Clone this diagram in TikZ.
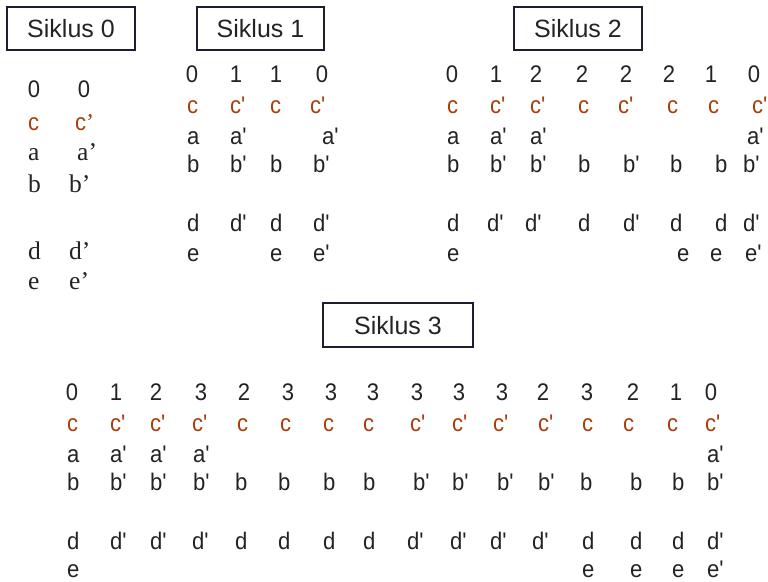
\documentclass[tikz,border=0pt]{standalone}
\usepackage{fontspec}
\setsansfont{Liberation Sans}
\newfontfamily\itf[FakeStretch=0.92]{Liberation Sans}
\newfontfamily\srf{Liberation Serif}
\newcommand\myq{\textquotesingle}
\definecolor{cbrown}{RGB}{170,62,10}
\definecolor{boxc}{RGB}{30,30,50}
\definecolor{txt}{RGB}{35,35,35}
\begin{document}
\begin{tikzpicture}[x=1pt,y=1pt,
  every node/.style={inner sep=0pt, text depth=0pt, font=\itf\fontsize{24}{28}\selectfont, text=txt},
  dg/.style={anchor=base},
  lt/.style={anchor=base west},
  cl/.style={anchor=base west, text=cbrown},
  sl/.style={anchor=base west, font=\srf\fontsize{25.5}{30}\selectfont},
  title/.style={draw=boxc, line width=1.5pt, minimum height=43pt, anchor=center,
    font=\sffamily\fontsize{25}{29}\selectfont}]
\useasboundingbox (0,0) rectangle (768,-581);

% ---------- titles
\node[title, minimum width=128pt] (t0) at (71,-28.5) {Siklus 0};
\node[title, minimum width=127pt] (t1) at (260.5,-28.5) {Siklus 1};
\node[title, minimum width=128pt] (t2) at (578,-28.5) {Siklus 2};
\node[title, minimum width=150pt, minimum height=44pt] (t3) at (398,-325) {Siklus 3};

% ---------- Siklus 0
\node[dg] (s0n1) at (34,-97) {0};
\node[dg] (s0n2) at (84,-97) {0};
\node[cl] (s0c1) at (28,-130) {c};
\node[cl] (s0c2) at (75,-130) {c{\srf ’}};
\node[sl] (s0a1) at (28,-160) {a};
\node[sl] (s0a2) at (77,-160) {a’};
\node[sl] (s0b1) at (28,-192) {b};
\node[sl] (s0b2) at (69,-192) {b’};
\node[sl] (s0d1) at (28,-259) {d};
\node[sl] (s0d2) at (69,-259) {d’};
\node[sl] (s0e1) at (28,-289) {e};
\node[sl] (s0e2) at (69,-289) {e’};

% ---------- Siklus 1
\foreach \x/\t [count=\i] in {192/0,236/1,276/1,322/0}
  \node[dg] (s1n\i) at (\x,-82) {\t};
\foreach \x/\t [count=\i] in {187/c,230/c\myq,270/c,310/c\myq}
  \node[cl] (s1c\i) at (\x,-113) {\t};
\foreach \x/\t [count=\i] in {187/a,230/a\myq,322/a\myq}
  \node[lt] (s1a\i) at (\x,-144) {\t};
\foreach \x/\t [count=\i] in {187/b,230/b\myq,270/b,313/b\myq}
  \node[lt] (s1b\i) at (\x,-172) {\t};
\foreach \x/\t [count=\i] in {187/d,230/d\myq,270/d,313/d\myq}
  \node[lt] (s1d\i) at (\x,-231) {\t};
\foreach \x/\t [count=\i] in {187/e,270/e,313/e\myq}
  \node[lt] (s1e\i) at (\x,-261) {\t};

% ---------- Siklus 2
\foreach \x/\t [count=\i] in {452/0,496/1,536/2,582/2,626/2,669/2,711/1,754/0}
  \node[dg] (s2n\i) at (\x,-82) {\t};
\foreach \x/\t [count=\i] in {447/c,490/c\myq,530/c\myq,578/c,618/c\myq,667/c,708/c,752/c\myq}
  \node[cl] (s2c\i) at (\x,-113) {\t};
\foreach \x/\t [count=\i] in {447/a,490/a\myq,530/a\myq,747/a\myq}
  \node[lt] (s2a\i) at (\x,-144) {\t};
\foreach \x/\t [count=\i] in {447/b,490/b\myq,530/b\myq,578/b,623/b\myq,670/b,715/b,743/b\myq}
  \node[lt] (s2b\i) at (\x,-172) {\t};
\foreach \x/\t [count=\i] in {447/d,487/d\myq,525/d\myq,578/d,623/d\myq,670/d,715/d,743/d\myq}
  \node[lt] (s2d\i) at (\x,-231) {\t};
\foreach \x/\t [count=\i] in {447/e,677/e,710/e,745/e\myq}
  \node[lt] (s2e\i) at (\x,-261) {\t};

% ---------- Siklus 3
\foreach \x/\t [count=\i] in {72/0,116/1,156/2,201/3,244/2,288/3,331/3,373/3,417/3,459/3,502/3,543/2,587/3,633/2,676/1,711/0}
  \node[dg] (s3n\i) at (\x,-400) {\t};
\foreach \x/\t [count=\i] in {67/c,110/c\myq,150/c\myq,192/c\myq,237/c,280/c,323/c,363/c,410/c\myq,452/c\myq,493/c\myq,538/c\myq,582/c,623/c,667/c,705/c\myq}
  \node[cl] (s3c\i) at (\x,-431) {\t};
\foreach \x/\t [count=\i] in {67/a,110/a\myq,150/a\myq,193/a\myq,707/a\myq}
  \node[lt] (s3a\i) at (\x,-462) {\t};
\foreach \x/\t [count=\i] in {67/b,110/b\myq,150/b\myq,193/b\myq,235/b,278/b,323/b,363/b,413/b\myq,452/b\myq,497/b\myq,538/b\myq,580/b,630/b,672/b,707/b\myq}
  \node[lt] (s3b\i) at (\x,-490) {\t};
\foreach \x/\t [count=\i] in {67/d,110/d\myq,150/d\myq,192/d\myq,235/d,278/d,323/d,363/d,407/d\myq,450/d\myq,490/d\myq,532/d\myq,582/d,630/d,672/d,707/d\myq}
  \node[lt] (s3d\i) at (\x,-549) {\t};
\foreach \x/\t [count=\i] in {67/e,582/e,630/e,672/e,707/e\myq}
  \node[lt] (s3e\i) at (\x,-577) {\t};
\end{tikzpicture}
\end{document}
